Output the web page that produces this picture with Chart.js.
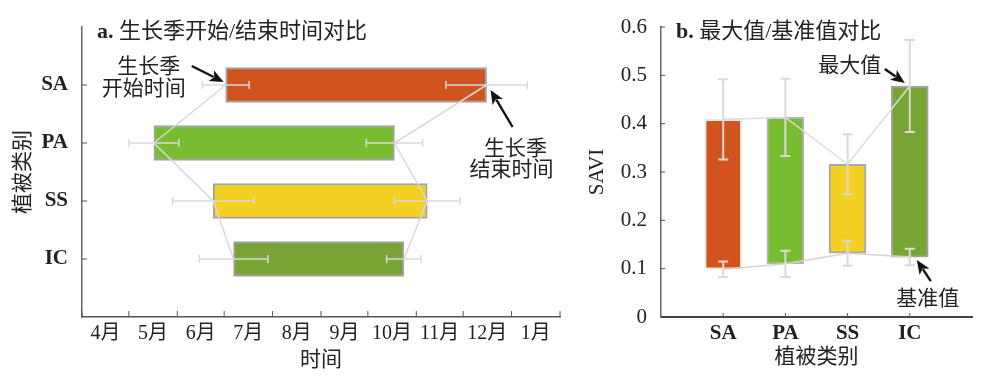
<!DOCTYPE html>
<html>
<head>
<meta charset="utf-8">
<script src="https://cdn.jsdelivr.net/npm/chart.js@4.4.1/dist/chart.umd.min.js"></script>
<style>
  body { margin: 0; background: #fff; }
  #wrap { position: relative; width: 1000px; height: 388px; overflow: hidden; }
  canvas { position: absolute; top: 0; }
</style>
</head>
<body>
<div id="wrap">
  <canvas id="chartA" width="590" height="388" style="left:0"></canvas>
  <canvas id="chartB" width="415" height="388" style="left:585px"></canvas>
</div>
<script>
// 植被类别
const categories = ['SA', 'PA', 'SS', 'IC'];
const barColors = ['#D1541F', '#78BD2F', '#F3D123', '#77A433'];

// a. 生长季开始/结束时间 (年积日, 4月1日 = 91)
const seasonStart = [183, 137, 175, 188];
const seasonStartErr = [15, 16, 26, 22];
const seasonEnd = [350, 291, 312, 297];
const seasonEndErr = [26, 18, 21, 11];

// 月份分界 (每月1日的年积日) 和月份标签
const monthStarts = [91, 121, 152, 182, 213, 244, 274, 305, 335, 366, 397];
const monthLabels = ['4月', '5月', '6月', '7月', '8月', '9月', '10月', '11月', '12月', '1月'];

// b. SAVI 最大值/基准值
const saviMax = [0.409, 0.413, 0.316, 0.478];
const saviMaxErr = [0.083, 0.080, 0.062, 0.095];
const saviBase = [0.099, 0.110, 0.132, 0.124];
const saviBaseErr = [0.016, 0.027, 0.026, 0.017];
const saviTicks = [0, 0.1, 0.2, 0.3, 0.4, 0.5, 0.6];

const serif = '"Liberation Serif", "Noto Sans CJK SC", serif';
const cjk = '"Noto Sans CJK SC", sans-serif';
const textColor = '#222';
const axisColor = '#555';

// 两端各留一个空类别, 让类别落在轴的 1..4 位置
const pad = arr => [null, ...arr, null];
const axisLabels = ['', ...categories, ''];

// 画箭头
function arrow(ctx, x1, y1, x2, y2) {
    const a = Math.atan2(y2 - y1, x2 - x1);
    const head = 14, w = 6;
    ctx.save();
    ctx.strokeStyle = '#111';
    ctx.fillStyle = '#111';
    ctx.lineWidth = 2.4;
    ctx.beginPath();
    ctx.moveTo(x1, y1);
    ctx.lineTo(x2 - head * 0.8 * Math.cos(a), y2 - head * 0.8 * Math.sin(a));
    ctx.stroke();
    ctx.beginPath();
    ctx.moveTo(x2, y2);
    ctx.lineTo(x2 - head * Math.cos(a) + w * Math.sin(a), y2 - head * Math.sin(a) - w * Math.cos(a));
    ctx.lineTo(x2 - head * 0.75 * Math.cos(a), y2 - head * 0.75 * Math.sin(a));
    ctx.lineTo(x2 - head * Math.cos(a) - w * Math.sin(a), y2 - head * Math.sin(a) + w * Math.cos(a));
    ctx.closePath();
    ctx.fill();
    ctx.restore();
}

function label(ctx, text, x, y, font) {
    ctx.font = font || ('21px ' + cjk);
    ctx.fillStyle = textColor;
    ctx.textAlign = 'center';
    ctx.textBaseline = 'middle';
    ctx.fillText(text, x, y);
}

// 图标题: 粗体字母 + 中文
function panelTitle(ctx, area, letter, text) {
    const x = area.left + 15, y = area.top + 5;
    ctx.save();
    ctx.textBaseline = 'middle';
    ctx.textAlign = 'left';
    ctx.fillStyle = textColor;
    ctx.font = 'bold 22px ' + serif;
    ctx.fillText(letter, x, y);
    const w = ctx.measureText(letter + ' ').width;
    ctx.font = '22px ' + serif;
    ctx.fillText(text, x + w, y);
    ctx.restore();
}

// 内向刻度线
function innerTick(ctx, x1, y1, x2, y2) {
    ctx.beginPath();
    ctx.moveTo(x1, y1);
    ctx.lineTo(x2, y2);
    ctx.stroke();
}

// ---------- 图 a ----------
const plotA = {
    id: 'plotA',
    afterDatasetsDraw(chart) {
        const ctx = chart.ctx, xs = chart.scales.x, ys = chart.scales.y;
        ctx.save();
        ctx.strokeStyle = '#d9d9d9';
        ctx.lineWidth = 1.5;
        categories.forEach((c, i) => {
            const y = ys.getPixelForValue(i + 1);
            [[seasonStart[i], seasonStartErr[i]], [seasonEnd[i], seasonEndErr[i]]].forEach(([v, e]) => {
                const x1 = xs.getPixelForValue(v - e), x2 = xs.getPixelForValue(v + e);
                ctx.beginPath();
                ctx.moveTo(x1, y); ctx.lineTo(x2, y);
                ctx.moveTo(x1, y - 4); ctx.lineTo(x1, y + 4);
                ctx.moveTo(x2, y - 4); ctx.lineTo(x2, y + 4);
                ctx.stroke();
            });
        });
        ctx.restore();
    },
    afterDraw(chart) {
        const ctx = chart.ctx, xs = chart.scales.x, ys = chart.scales.y, area = chart.chartArea;
        ctx.save();
        ctx.strokeStyle = axisColor;
        ctx.lineWidth = 1;
        categories.forEach((c, i) => {
            const y = ys.getPixelForValue(i + 1);
            innerTick(ctx, area.left, y, area.left + 5, y);
        });
        monthStarts.forEach(d => {
            const x = xs.getPixelForValue(d);
            innerTick(ctx, x, area.bottom, x, area.bottom - 6);
        });
        ctx.restore();

        panelTitle(ctx, area, 'a.', '生长季开始/结束时间对比');

        // 开始时间标注
        const sx = xs.getPixelForValue(seasonStart[0]), sy = ys.getPixelForValue(1);
        label(ctx, '生长季', sx - 77, sy - 20);
        label(ctx, '开始时间', sx - 82, sy + 2);
        arrow(ctx, sx - 34, sy - 19, sx - 2, sy - 3);

        // 结束时间标注
        const ex = xs.getPixelForValue(seasonEnd[0]);
        label(ctx, '生长季', ex + 29, sy + 62);
        label(ctx, '结束时间', ex + 25, sy + 83);
        arrow(ctx, ex + 26, sy + 42, ex + 4, sy + 5);
    }
};

new Chart(document.getElementById('chartA'), {
    type: 'bar',
    data: {
        labels: axisLabels,
        datasets: [
            { type: 'line', indexAxis: 'y', data: pad(seasonStart), borderColor: '#d9d9d9', borderWidth: 1.5, pointRadius: 0, order: 0 },
            { type: 'line', indexAxis: 'y', data: pad(seasonEnd), borderColor: '#d9d9d9', borderWidth: 1.5, pointRadius: 0, order: 0 },
            {
                type: 'bar',
                data: pad(categories.map((c, i) => [seasonStart[i], seasonEnd[i]])),
                backgroundColor: pad(barColors),
                borderColor: '#a3a3a3',
                borderWidth: 2,
                borderSkipped: false,
                barThickness: 35,
                order: 1
            }
        ]
    },
    options: {
        indexAxis: 'y',
        responsive: false,
        animation: false,
        layout: { padding: { top: 27, right: 30, left: 0, bottom: 0 } },
        plugins: { legend: { display: false }, tooltip: { enabled: false } },
        scales: {
            x: {
                type: 'linear',
                min: monthStarts[0],
                max: monthStarts[monthStarts.length - 1],
                afterBuildTicks: s => {
                    // 标签放在每月中间
                    s.ticks = monthLabels.map((m, i) => ({ value: (monthStarts[i] + monthStarts[i + 1]) / 2 }));
                },
                ticks: {
                    callback: (v, i) => monthLabels[i],
                    autoSkip: false, maxRotation: 0, padding: 5,
                    color: textColor, font: { family: serif, size: 20 }
                },
                grid: { display: false, drawTicks: false },
                border: { display: true, color: axisColor, width: 1.5 },
                title: {
                    display: true, text: '时间', color: textColor,
                    font: { family: cjk, size: 21, lineHeight: 1 }, padding: { top: 0, bottom: 19 }
                },
                afterFit: s => { s.height = 71; }
            },
            y: {
                type: 'category',
                offset: false,
                ticks: { color: textColor, padding: 14, font: { family: serif, size: 21, weight: 'bold' } },
                grid: { display: false, drawTicks: false },
                border: { display: true, color: '#666', width: 1.5 },
                title: {
                    display: true, text: '植被类别', color: textColor,
                    font: { family: cjk, size: 21, lineHeight: 1 }, padding: { top: 11, bottom: 0 }
                },
                afterFit: s => { s.width = 82; }
            }
        }
    },
    plugins: [plotA]
});

// ---------- 图 b ----------
const plotB = {
    id: 'plotB',
    afterDatasetsDraw(chart) {
        const ctx = chart.ctx, xs = chart.scales.x, ys = chart.scales.y;
        ctx.save();
        ctx.strokeStyle = '#dcd9d4';
        ctx.lineWidth = 2;
        categories.forEach((c, i) => {
            const x = xs.getPixelForValue(i + 1);
            [[saviMax[i], saviMaxErr[i]], [saviBase[i], saviBaseErr[i]]].forEach(([v, e]) => {
                const y1 = ys.getPixelForValue(v - e), y2 = ys.getPixelForValue(v + e);
                ctx.beginPath();
                ctx.moveTo(x, y1); ctx.lineTo(x, y2);
                ctx.moveTo(x - 5, y1); ctx.lineTo(x + 5, y1);
                ctx.moveTo(x - 5, y2); ctx.lineTo(x + 5, y2);
                ctx.stroke();
            });
        });
        ctx.restore();
    },
    afterDraw(chart) {
        const ctx = chart.ctx, xs = chart.scales.x, ys = chart.scales.y, area = chart.chartArea;
        ctx.save();
        ctx.strokeStyle = axisColor;
        ctx.lineWidth = 1;
        categories.forEach((c, i) => {
            const x = xs.getPixelForValue(i + 1);
            innerTick(ctx, x, area.bottom, x, area.bottom - 4);
        });
        saviTicks.slice(1).forEach(v => {
            const y = ys.getPixelForValue(v);
            innerTick(ctx, area.left, y, area.left + 4, y);
        });
        ctx.restore();

        panelTitle(ctx, area, 'b.', '最大值/基准值对比');

        // 最大值 / 基准值 标注 (指向 IC)
        const ix = xs.getPixelForValue(4);
        const my = ys.getPixelForValue(saviMax[3]);
        label(ctx, '最大值', ix - 60, my - 22);
        arrow(ctx, ix - 25, my - 17, ix - 5, my - 3);
        const by = ys.getPixelForValue(saviBase[3]);
        label(ctx, '基准值', ix + 18, by + 40);
        arrow(ctx, ix + 21, by + 24, ix + 7, by + 3);
    }
};

new Chart(document.getElementById('chartB'), {
    type: 'bar',
    data: {
        labels: axisLabels,
        datasets: [
            { type: 'line', data: pad(saviMax), borderColor: '#dcdcdc', borderWidth: 1.5, pointRadius: 0, order: 0 },
            { type: 'line', data: pad(saviBase), borderColor: '#d6d3ce', borderWidth: 1.5, pointRadius: 0, order: 0 },
            {
                type: 'bar',
                data: pad(categories.map((c, i) => [saviBase[i], saviMax[i]])),
                backgroundColor: pad(barColors),
                borderColor: pad(['#e8e8e8', '#b5b5b5', '#a8a8a8', '#a3a3a3']),
                borderWidth: 2,
                borderSkipped: false,
                barThickness: 37,
                order: 1
            }
        ]
    },
    options: {
        responsive: false,
        animation: false,
        layout: { padding: { top: 27, right: 28, left: 0, bottom: 0 } },
        plugins: { legend: { display: false }, tooltip: { enabled: false } },
        scales: {
            x: {
                type: 'category',
                offset: false,
                ticks: { color: textColor, padding: 4, font: { family: serif, size: 21, weight: 'bold' } },
                grid: { display: false, drawTicks: false },
                border: { display: true, color: '#444', width: 2 },
                title: {
                    display: true, text: '植被类别', color: textColor,
                    font: { family: cjk, size: 21, lineHeight: 1 }, padding: { top: 0, bottom: 22 }
                },
                afterFit: s => { s.height = 71; }
            },
            y: {
                type: 'linear',
                min: saviTicks[0],
                max: saviTicks[saviTicks.length - 1],
                afterBuildTicks: s => { s.ticks = saviTicks.map(v => ({ value: v })); },
                ticks: {
                    callback: v => (v === 0 ? '0' : v.toFixed(1)),
                    color: textColor, padding: 14, font: { family: serif, size: 21 }
                },
                grid: { display: false, drawTicks: false },
                border: { display: true, color: '#666', width: 1.5 },
                title: {
                    display: true, text: 'SAVI', color: textColor,
                    font: { family: serif, size: 21, lineHeight: 1 }, padding: { top: 2, bottom: 0 }
                },
                afterFit: s => { s.width = 76; }
            }
        }
    },
    plugins: [plotB]
});
</script>
</body>
</html>
